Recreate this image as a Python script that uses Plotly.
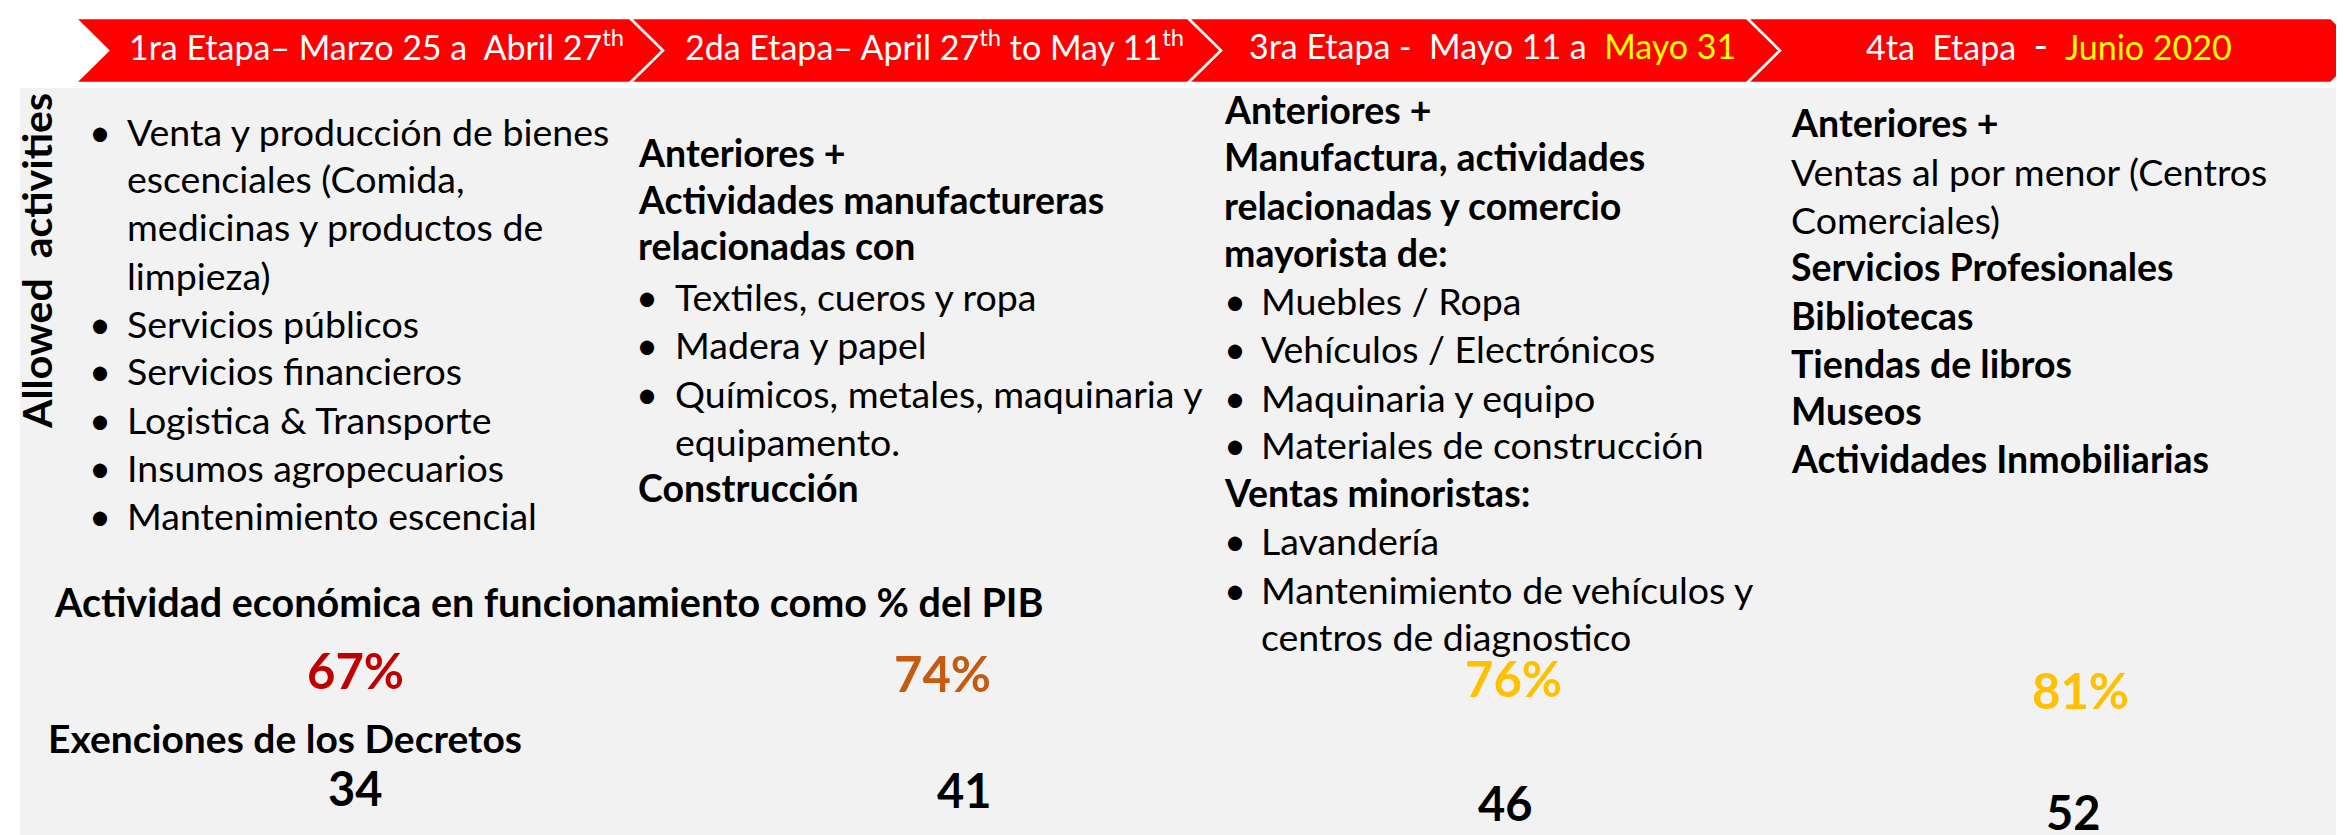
import plotly.graph_objects as go

W, H = 2344, 835
FONT = "Lato"
NB = "\u00a0"

# ---------------- data ----------------
stage_titles = [
    "1ra Etapa– Marzo 25 a" + NB + " Abril 27<sup>th</sup>",
    "2da Etapa– April 27<sup>th</sup> to May 11<sup>th</sup>",
    "3ra Etapa -" + NB + " Mayo 11 a" + NB + " <span style='color:#FFFF00'>Mayo 31</span>",
    "4ta" + NB + " Etapa" + NB + " <span style='font-size:40px'>-</span>" + NB + " <span style='color:#FFFF00'>Junio 2020</span>",
]

side_label = "Allowed" + NB + " activities"

# (text, kind) kind: "b" bold heading, "u" bullet item, "c" continuation of bullet, "n" normal
col1 = [
    ("Venta y producción de bienes", "u"),
    ("escenciales (Comida,", "c"),
    ("medicinas y productos de", "c"),
    ("limpieza)", "c"),
    ("Servicios públicos", "u"),
    ("Servicios financieros", "u"),
    ("Logistica & Transporte", "u"),
    ("Insumos agropecuarios", "u"),
    ("Mantenimiento escencial", "u"),
]
col2 = [
    ("Anteriores +", "b"),
    ("Actividades manufactureras", "b"),
    ("relacionadas con", "b"),
    ("Textiles, cueros y ropa", "u"),
    ("Madera y papel", "u"),
    ("Químicos, metales, maquinaria y", "u"),
    ("equipamento.", "c"),
    ("Construcción", "b"),
]
col3 = [
    ("Anteriores +", "b"),
    ("Manufactura, actividades", "b"),
    ("relacionadas y comercio", "b"),
    ("mayorista de:", "b"),
    ("Muebles / Ropa", "u"),
    ("Vehículos / Electrónicos", "u"),
    ("Maquinaria y equipo", "u"),
    ("Materiales de construcción", "u"),
    ("Ventas minoristas:", "b"),
    ("Lavandería", "u"),
    ("Mantenimiento de vehículos y", "u"),
    ("centros de diagnostico", "c"),
]
col4 = [
    ("Anteriores +", "b"),
    ("Ventas al por menor (Centros", "n"),
    ("Comerciales)", "n"),
    ("Servicios Profesionales", "b"),
    ("Bibliotecas", "b"),
    ("Tiendas de libros", "b"),
    ("Museos", "b"),
    ("Actividades Inmobiliarias", "b"),
]
columns = [col1, col2, col3, col4]

gdp_title = "Actividad económica en funcionamiento como % del PIB"
gdp_pct = [67, 74, 76, 81]
gdp_colors = ["#C00000", "#C55A11", "#FFC000", "#FFC000"]
exempt_title = "Exenciones de los Decretos"
exemptions = [34, 41, 46, 52]

# ---------------- layout positions ----------------
band_edges = [67, 622, 1180, 1739, 2323]
band_top, band_bot, depth = 10, 75, 33
title_cx = [368, 926, 1484, 2041]
title_y = 37

col_left = [117, 628, 1214, 1781]      # left of bold / normal text
col_indent = [117, 665, 1251, 1781]    # left of bulleted text
col_bullet = [92, 639, 1227, 1757]     # bullet centre
col_y = [
    [123, 170, 218, 267, 315, 362, 411, 459, 507],
    [144, 191, 237, 288, 336, 385, 433, 479],
    [101, 148, 197, 244, 292, 340, 389, 436, 484, 532, 581, 628],
    [114, 163, 211, 258, 307, 355, 402, 450],
]
pct_x = [347, 934, 1505, 2072]
pct_y = [662, 665, 670, 682]
ex_x = [347, 956, 1497, 2065]
ex_y = [780, 782, 795, 804]

BODY = 37.5

fig = go.Figure()
shapes = []
# grey panel
shapes.append(dict(type="rect", xref="x", yref="y", x0=12, y0=80, x1=W, y1=H,
                   fillcolor="#F2F2F2", line=dict(width=0), layer="below"))
# chevron band
ymid = (band_top + band_bot) / 2
for i in range(4):
    x0, x1 = band_edges[i], band_edges[i + 1]
    path = (f"M {x0},{band_top} L {x1},{band_top} L {x1 + depth},{ymid} "
            f"L {x1},{band_bot} L {x0},{band_bot} L {x0 + depth},{ymid} Z")
    shapes.append(dict(type="path", xref="x", yref="y", path=path,
                       fillcolor="#FF0000", line=dict(color="white", width=2.5),
                       layer="below"))

ann = []
for t, cx in zip(stage_titles, title_cx):
    ann.append(dict(x=cx, y=title_y, text=t, xanchor="center", yanchor="middle",
                    font=dict(family=FONT, size=34, color="white")))

ann.append(dict(x=28, y=253, text="<b>" + side_label + "</b>", textangle=-90,
                xanchor="center", yanchor="middle",
                font=dict(family=FONT, size=41, color="black")))

for ci, col in enumerate(columns):
    for (txt, kind), y in zip(col, col_y[ci]):
        if kind == "b":
            ann.append(dict(x=col_left[ci], y=y, text="<b>" + txt + "</b>",
                            xanchor="left", yanchor="middle",
                            font=dict(family=FONT, size=BODY, color="black")))
        elif kind == "n":
            ann.append(dict(x=col_left[ci], y=y, text=txt,
                            xanchor="left", yanchor="middle",
                            font=dict(family=FONT, size=BODY, color="black")))
        else:
            if kind == "u":
                ann.append(dict(x=col_bullet[ci], y=y, text="•",
                                xanchor="center", yanchor="middle",
                                font=dict(family=FONT, size=38, color="black")))
            ann.append(dict(x=col_indent[ci], y=y, text=txt,
                            xanchor="left", yanchor="middle",
                            font=dict(family=FONT, size=BODY, color="black")))

ann.append(dict(x=44, y=593, text="<b>" + gdp_title + "</b>", xanchor="left",
                yanchor="middle", font=dict(family=FONT, size=39.5, color="black")))
ann.append(dict(x=38, y=730, text="<b>" + exempt_title + "</b>", xanchor="left",
                yanchor="middle", font=dict(family=FONT, size=39, color="black")))

for v, c, x, y in zip(gdp_pct, gdp_colors, pct_x, pct_y):
    ann.append(dict(x=x, y=y, text=f"<b>{v}%</b>", xanchor="center", yanchor="middle",
                    font=dict(family=FONT, size=49, color=c)))
for v, x, y in zip(exemptions, ex_x, ex_y):
    ann.append(dict(x=x, y=y, text=f"<b>{v}</b>", xanchor="center", yanchor="middle",
                    font=dict(family=FONT, size=47, color="black")))

for a in ann:
    a.update(xref="x", yref="y", showarrow=False)

fig.update_layout(
    width=W, height=H,
    margin=dict(l=0, r=0, t=0, b=0),
    paper_bgcolor="white", plot_bgcolor="white",
    xaxis=dict(range=[0, W], visible=False, fixedrange=True),
    yaxis=dict(range=[H, 0], visible=False, fixedrange=True),
    shapes=shapes, annotations=ann, showlegend=False,
)
fig.write_html("out.html", config={"displayModeBar": False})
